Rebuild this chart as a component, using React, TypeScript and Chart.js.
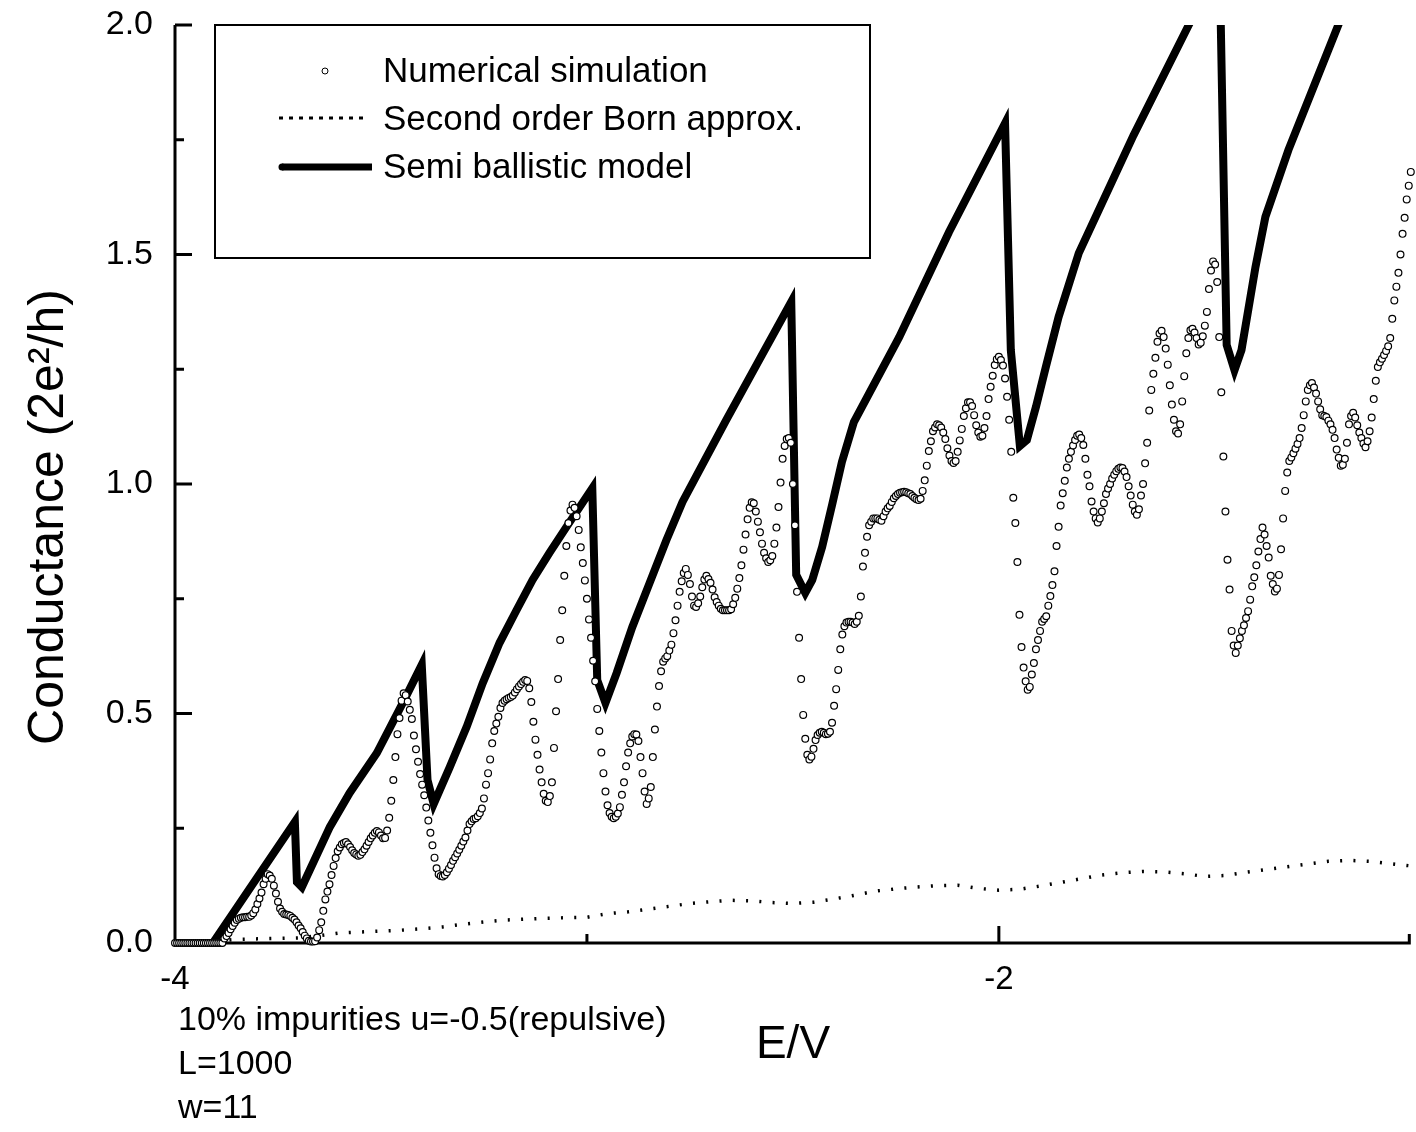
import React, { useEffect, useRef } from "react";
import { Chart, registerables } from "chart.js";

Chart.register(...registerables);

const W = 1416;
const H = 1132;
const FONT = "'Liberation Sans', Arial, Helvetica, sans-serif";

// ---- Numerical simulation: conductance sampled every 0.005 in E/V, from E/V = -4 ----
const SIM_E_START = -4;
const SIM_E_STEP = 0.005;
const simG = [
  0, 0, 0, 0, 0, 0, 0, 0, 0, 0,
  0, 0, 0, 0, 0, 0, 0, 0, 0, 0,
  0, 0, 0, 0,
  0.01, 0.015, 0.022, 0.03, 0.037, 0.044, 0.05, 0.053, 0.055, 0.056,
  0.056, 0.057, 0.057, 0.06, 0.065, 0.073, 0.085, 0.097, 0.11, 0.128,
  0.14, 0.15, 0.147, 0.14, 0.125, 0.108, 0.09, 0.075, 0.068, 0.063,
  0.062, 0.061, 0.059, 0.055, 0.051, 0.045, 0.038, 0.032, 0.024, 0.016,
  0.01, 0.005, 0.003, 0.003, 0.004, 0.012, 0.028, 0.045, 0.07, 0.095,
  0.112, 0.128, 0.148, 0.168, 0.185, 0.2, 0.208, 0.215, 0.218, 0.22,
  0.215, 0.209, 0.202, 0.196, 0.193, 0.19, 0.192, 0.198, 0.204, 0.212,
  0.22, 0.228, 0.234, 0.24, 0.244, 0.241, 0.234, 0.228, 0.229, 0.245,
  0.273, 0.31, 0.355, 0.405, 0.455, 0.49, 0.528, 0.544, 0.54, 0.526,
  0.508, 0.488, 0.452, 0.422, 0.395, 0.368, 0.345, 0.322, 0.295, 0.267,
  0.24, 0.213, 0.186, 0.163, 0.15, 0.146, 0.145, 0.148, 0.154, 0.162,
  0.17, 0.179, 0.187, 0.195, 0.203, 0.212, 0.221, 0.23, 0.245, 0.259,
  0.265, 0.27, 0.272, 0.276, 0.283, 0.293, 0.315, 0.345, 0.37, 0.4,
  0.435, 0.462, 0.478, 0.493, 0.512, 0.523, 0.528, 0.531, 0.534, 0.536,
  0.539, 0.546, 0.553, 0.559, 0.564, 0.569, 0.573, 0.571, 0.555, 0.525,
  0.482, 0.443, 0.41, 0.378, 0.35, 0.325, 0.31, 0.307, 0.32, 0.35,
  0.425, 0.505, 0.575, 0.66, 0.725, 0.8, 0.865, 0.915, 0.942, 0.955,
  0.948, 0.93, 0.9, 0.862, 0.828, 0.79, 0.75, 0.705, 0.665, 0.615,
  0.57, 0.51, 0.462, 0.415, 0.37, 0.33, 0.3, 0.283, 0.275, 0.272,
  0.275, 0.282, 0.296, 0.323, 0.35, 0.385, 0.415, 0.435, 0.45, 0.455,
  0.454, 0.44, 0.405, 0.37, 0.33, 0.303, 0.315, 0.34, 0.405, 0.465,
  0.515, 0.56, 0.592, 0.613, 0.62, 0.625, 0.637, 0.65, 0.675, 0.703,
  0.735, 0.765, 0.788, 0.806, 0.815, 0.802, 0.782, 0.755, 0.735, 0.732,
  0.74, 0.755, 0.775, 0.792, 0.8, 0.793, 0.785, 0.77, 0.753, 0.743,
  0.735, 0.728, 0.725, 0.725, 0.725, 0.725, 0.727, 0.738, 0.752, 0.772,
  0.795, 0.823, 0.857, 0.89, 0.923, 0.948, 0.96, 0.958, 0.94, 0.918,
  0.895, 0.87, 0.85, 0.838, 0.83, 0.834, 0.843, 0.87, 0.905, 0.95,
  1.003, 1.055, 1.083, 1.098, 1.1, 1.09, 1.0, 0.91, 0.765, 0.665,
  0.575, 0.497, 0.445, 0.41, 0.4, 0.406, 0.423, 0.442, 0.453, 0.458,
  0.46, 0.458, 0.455, 0.456, 0.46, 0.48, 0.517, 0.553, 0.595, 0.64,
  0.672, 0.69, 0.698, 0.7, 0.7, 0.698, 0.695, 0.7, 0.713, 0.755,
  0.82, 0.85, 0.885, 0.91, 0.918, 0.925, 0.925, 0.925, 0.922, 0.92,
  0.93, 0.94, 0.947, 0.952, 0.961, 0.969, 0.974, 0.978, 0.981, 0.982,
  0.983, 0.982, 0.98, 0.978, 0.974, 0.97, 0.967, 0.965, 0.968, 0.985,
  1.008, 1.04, 1.072, 1.093, 1.115, 1.123, 1.13, 1.128, 1.123, 1.112,
  1.098, 1.078, 1.062, 1.05, 1.046, 1.05, 1.07, 1.095, 1.12, 1.148,
  1.165, 1.178, 1.178, 1.17, 1.15, 1.128, 1.112, 1.103, 1.105, 1.122,
  1.148, 1.185, 1.212, 1.236, 1.259, 1.272, 1.277, 1.27, 1.258, 1.23,
  1.19, 1.14, 1.07, 0.97, 0.915, 0.83, 0.715, 0.645, 0.6, 0.57,
  0.552, 0.558, 0.585, 0.61, 0.64, 0.66, 0.68, 0.7, 0.706, 0.712,
  0.735, 0.756, 0.78, 0.81, 0.865, 0.907, 0.953, 0.98, 1.007, 1.036,
  1.055, 1.07, 1.084, 1.096, 1.105, 1.108, 1.1, 1.085, 1.055, 1.02,
  0.995, 0.962, 0.94, 0.925, 0.916, 0.925, 0.94, 0.958, 0.978, 0.99,
  1.0, 1.012, 1.02, 1.028, 1.033, 1.036, 1.035, 1.027, 1.015, 0.995,
  0.975, 0.955, 0.94, 0.933, 0.945, 0.975, 1.0, 1.045, 1.09, 1.16,
  1.205, 1.24, 1.275, 1.31, 1.328, 1.334, 1.32, 1.295, 1.26, 1.215,
  1.173, 1.14, 1.115, 1.11, 1.13, 1.18, 1.235, 1.285, 1.318, 1.335,
  1.338, 1.33, 1.318, 1.304, 1.308, 1.322, 1.345, 1.375, 1.425, 1.465,
  1.485, 1.478, 1.44, 1.32, 1.2, 1.06, 0.94, 0.835, 0.77, 0.68,
  0.648, 0.632, 0.648, 0.664, 0.68, 0.692, 0.708, 0.723, 0.748, 0.777,
  0.797, 0.823, 0.853, 0.88, 0.905, 0.89, 0.865, 0.84, 0.8, 0.782,
  0.766, 0.772, 0.802, 0.858, 0.925, 0.985, 1.025, 1.05, 1.058, 1.067,
  1.077, 1.087, 1.1, 1.122, 1.15, 1.18, 1.205, 1.215, 1.22, 1.21,
  1.197, 1.18, 1.163, 1.15, 1.148, 1.146, 1.138, 1.13, 1.118, 1.1,
  1.075, 1.057, 1.04, 1.042, 1.055, 1.09, 1.13, 1.148, 1.155, 1.145,
  1.128, 1.112, 1.1, 1.088, 1.08, 1.093, 1.115, 1.145, 1.185, 1.225,
  1.255, 1.265, 1.273, 1.281, 1.29, 1.3, 1.318, 1.36, 1.4, 1.43,
  1.46, 1.5, 1.545, 1.58, 1.62, 1.65, 1.68,
];

// ---- Second order Born approximation: sampled every 0.05 in E/V from -3.90 ----
const BORN_E_START = -3.9;
const BORN_E_STEP = 0.05;
const bornG = [
  0.004, 0.008, 0.009, 0.01, 0.011, 0.016, 0.022, 0.024, 0.026, 0.028,
  0.031, 0.035, 0.041, 0.046, 0.05, 0.052, 0.054, 0.055, 0.056, 0.064,
  0.068, 0.074, 0.08, 0.086, 0.09, 0.093, 0.092, 0.088, 0.086, 0.089,
  0.096, 0.104, 0.113, 0.118, 0.122, 0.125, 0.126, 0.119, 0.115, 0.117,
  0.124, 0.132, 0.14, 0.148, 0.153, 0.156, 0.155, 0.151, 0.145, 0.147,
  0.154, 0.16, 0.166, 0.172, 0.178, 0.18, 0.178, 0.173, 0.168,
];

// ---- Semi ballistic model: vertices of the sawtooth ----
const ballisticE = [
  -3.908, -3.709, -3.704, -3.692, -3.624, -3.576, -3.51, -3.447, -3.401, -3.387,
  -3.372, -3.333, -3.292, -3.253, -3.212, -3.171, -3.132, -3.091, -3.05, -2.987,
  -2.975, -2.955, -2.928, -2.89, -2.848, -2.807, -2.768, -2.662, -2.582, -2.504,
  -2.492, -2.47, -2.453, -2.429, -2.405, -2.381, -2.352, -2.242, -2.121, -1.985,
  -1.971, -1.949, -1.932, -1.91, -1.886, -1.855, -1.806, -1.673, -1.539, -1.464,
  -1.447, -1.428, -1.411, -1.377, -1.353, -1.297, -1.176, -1.0,
];
const ballisticG = [
  0.0, 0.264, 0.133, 0.122, 0.253, 0.327, 0.414, 0.523, 0.606, 0.355,
  0.303, 0.383, 0.471, 0.566, 0.654, 0.725, 0.791, 0.85, 0.906, 0.991,
  0.573, 0.523, 0.588, 0.688, 0.784, 0.878, 0.961, 1.139, 1.27, 1.397,
  0.802, 0.763, 0.791, 0.863, 0.954, 1.048, 1.135, 1.32, 1.549, 1.786,
  1.292, 1.083, 1.096, 1.168, 1.255, 1.364, 1.503, 1.76, 2.0, 2.135,
  1.303, 1.248, 1.292, 1.473, 1.582, 1.728, 2.0, 2.392,
];

// ---- Axes / text ----
const X_MIN = -4;
const X_MAX = -1;
const Y_MIN = 0;
const Y_MAX = 2;
const xLabeledTicks = [-4, -2];
const xMajorTicks = [-4, -2];
const xMinorTicks = [-3, -1];
const yMajorTicks = [0, 0.5, 1, 1.5, 2];
const yMinorTicks = [0.25, 0.75, 1.25, 1.75];
const seriesNames = ["Numerical simulation", "Second order Born approx.", "Semi ballistic model"];
const xTitle = "E/V";
const yTitle = "Conductance (2e\u00B2/h)";
const noteLines = ["10% impurities u=-0.5(repulsive)", "L=1000", "w=11"];

const decorPlugin = {
  id: "decor",
  beforeDatasetsDraw(chart: any) {
    const { ctx, chartArea, scales } = chart;
    const { left, right, top, bottom } = chartArea;
    const x = scales.x;
    const y = scales.y;
    ctx.save();
    ctx.strokeStyle = "#000";
    ctx.lineWidth = 3;
    ctx.lineCap = "butt";
    ctx.beginPath();
    ctx.moveTo(left, top);
    ctx.lineTo(left, bottom + 1.5);
    ctx.moveTo(left - 1.5, bottom);
    ctx.lineTo(right, bottom);
    for (const v of yMajorTicks) {
      const py = y.getPixelForValue(v);
      ctx.moveTo(left, py);
      ctx.lineTo(left + 17, py);
    }
    for (const v of yMinorTicks) {
      const py = y.getPixelForValue(v);
      ctx.moveTo(left, py);
      ctx.lineTo(left + 9, py);
    }
    for (const v of xMajorTicks) {
      const px = x.getPixelForValue(v);
      ctx.moveTo(px, bottom);
      ctx.lineTo(px, bottom - 17);
    }
    for (const v of xMinorTicks) {
      const px = Math.min(x.getPixelForValue(v), right - 1.5);
      ctx.moveTo(px, bottom);
      ctx.lineTo(px, bottom - 9);
    }
    ctx.stroke();
    ctx.restore();
  },
  afterDraw(chart: any) {
    const { ctx, chartArea } = chart;
    const { left, top } = chartArea;
    ctx.save();
    // legend box
    const bx = left + 40;
    const by = top;
    const bw = 655;
    const bh = 233;
    ctx.fillStyle = "#fff";
    ctx.fillRect(bx, by, bw, bh);
    ctx.strokeStyle = "#000";
    ctx.lineWidth = 2;
    ctx.strokeRect(bx, by, bw, bh);

    ctx.font = `35px ${FONT}`;
    ctx.textBaseline = "middle";
    ctx.textAlign = "left";
    const textX = left + 208;
    const rows = [top + 47, top + 95, top + 143];
    // circle marker
    ctx.beginPath();
    ctx.lineWidth = 1;
    ctx.arc(left + 150, rows[0] - 1, 3, 0, Math.PI * 2);
    ctx.fillStyle = "#fff";
    ctx.fill();
    ctx.stroke();
    // dotted
    ctx.beginPath();
    ctx.lineWidth = 3;
    ctx.setLineDash([4, 6]);
    ctx.moveTo(left + 104, rows[1] - 2);
    ctx.lineTo(left + 194, rows[1] - 2);
    ctx.stroke();
    ctx.setLineDash([]);
    // thick
    ctx.beginPath();
    ctx.lineWidth = 7;
    ctx.lineCap = "butt";
    ctx.moveTo(left + 107, rows[2] - 1);
    ctx.lineTo(left + 197, rows[2] - 1);
    ctx.stroke();
    ctx.beginPath();
    ctx.fillStyle = "#000";
    ctx.arc(left + 107, rows[2] - 1, 3.5, 0, Math.PI * 2);
    ctx.fill();

    ctx.fillStyle = "#000";
    seriesNames.forEach((name, i) => ctx.fillText(name, textX, rows[i]));

    // axis titles
    ctx.font = `46px ${FONT}`;
    ctx.textAlign = "center";
    ctx.fillText(xTitle, 793, 1045);
    ctx.save();
    ctx.font = `50px ${FONT}`;
    ctx.translate(49, 517);
    ctx.rotate(-Math.PI / 2);
    ctx.fillText(yTitle, 0, 0);
    ctx.restore();

    // notes
    ctx.font = `34px ${FONT}`;
    ctx.textAlign = "left";
    noteLines.forEach((line, i) => ctx.fillText(line, 178, 1021 + i * 44));
    ctx.restore();
  },
};

export default function App() {
  const canvasRef = useRef<HTMLCanvasElement | null>(null);

  useEffect(() => {
    const canvas = canvasRef.current;
    if (!canvas) return;
    const simData = simG.map((g, i) => ({ x: SIM_E_START + i * SIM_E_STEP, y: g }));
    const bornData = bornG.map((g, i) => ({ x: BORN_E_START + i * BORN_E_STEP, y: g }));
    const ballData = ballisticE.map((e, i) => ({ x: e, y: ballisticG[i] }));

    const chart = new Chart(canvas, {
      type: "scatter",
      data: {
        datasets: [
          {
            label: seriesNames[0],
            data: simData,
            showLine: false,
            pointStyle: "circle",
            pointRadius: 3.4,
            pointBorderWidth: 1.2,
            pointBorderColor: "#000",
            pointBackgroundColor: "#fff",
            borderColor: "#000",
            backgroundColor: "#fff",
            clip: false,
          } as any,
          {
            label: seriesNames[1],
            data: bornData,
            showLine: true,
            borderColor: "#000",
            borderWidth: 3.5,
            borderDash: [2, 11.3],
            pointRadius: 0,
            tension: 0,
          } as any,
          {
            label: seriesNames[2],
            data: ballData,
            showLine: true,
            borderColor: "#000",
            borderWidth: 8,
            borderJoinStyle: "miter",
            pointRadius: 0,
            tension: 0,
            clip: { left: 0, top: 0, right: 0, bottom: 6 },
          } as any,
        ],
      },
      options: {
        animation: false,
        responsive: false,
        devicePixelRatio: 1,
        events: [],
        layout: { padding: { top: 25, right: 3, left: 0, bottom: 0 } },
        plugins: {
          legend: { display: false },
          tooltip: { enabled: false },
          title: { display: false },
        },
        scales: {
          x: {
            type: "linear",
            min: X_MIN,
            max: X_MAX,
            border: { display: false },
            grid: { display: false, drawTicks: false },
            ticks: {
              stepSize: 1,
              padding: 17,
              autoSkip: false,
              maxRotation: 0,
              color: "#000",
              font: { family: FONT, size: 33 },
              callback: (v: any) => {
                const n = Number(v);
                return xLabeledTicks.some((t) => Math.abs(t - n) < 1e-6) ? String(n) : "";
              },
            },
            afterFit: (s: any) => {
              s.height = H - 943;
              s.paddingLeft = 0;
              s.paddingRight = 0;
            },
          },
          y: {
            type: "linear",
            min: Y_MIN,
            max: Y_MAX,
            border: { display: false },
            grid: { display: false, drawTicks: false },
            ticks: {
              stepSize: 0.5,
              padding: 22,
              color: "#000",
              font: { family: FONT, size: 34 },
              callback: (v: any) => Number(v).toFixed(1),
            },
            afterFit: (s: any) => {
              s.width = 175;
              s.paddingTop = 0;
              s.paddingBottom = 0;
            },
          },
        },
      } as any,
      plugins: [decorPlugin],
    });
    return () => chart.destroy();
  }, []);

  return (
    <div style={{ position: "absolute", left: 0, top: 0, width: W, height: H, background: "#fff" }}>
      <canvas ref={canvasRef} width={W} height={H} style={{ display: "block" }} />
    </div>
  );
}
